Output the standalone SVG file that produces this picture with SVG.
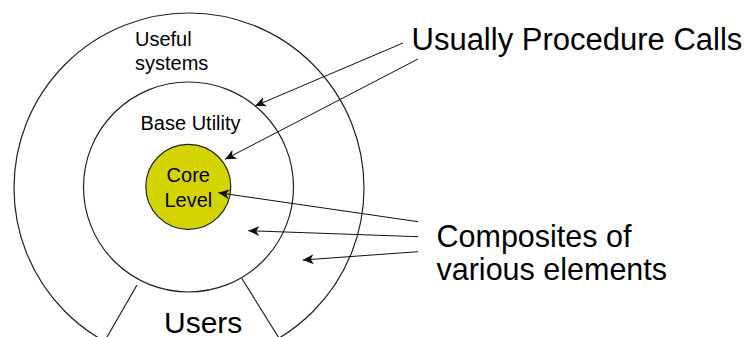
<svg xmlns="http://www.w3.org/2000/svg" width="746" height="337" viewBox="0 0 746 337">
<style>
.ring{fill:none;stroke:#222;stroke-width:1.2}
.core{fill:#d4d400;stroke:#222;stroke-width:1.2}
.sep{stroke:#222;stroke-width:1.2;fill:none}
.conn{stroke:#111;stroke-width:1;fill:none;marker-end:url(#ah)}
text{font-family:"Liberation Sans",Arial,sans-serif;fill:#000}
.s{font-size:20px}
.b{font-size:30.5px}
</style>
<defs>
<marker id="ah" markerUnits="userSpaceOnUse" markerWidth="12" markerHeight="10" refX="11" refY="5" orient="auto" viewBox="0 0 12 10">
<path d="M0,0 L11,5 L0,10 L3,5 Z" fill="#111"/>
</marker>
</defs>
<rect width="746" height="337" fill="#fff"/>
<g id="useful-systems">
<circle class="ring" cx="189" cy="188" r="175"/>
<text class="s" x="135" y="46">Useful</text>
<text class="s" x="135" y="70">systems</text>
</g>
<g id="base-utility">
<circle class="ring" cx="188.5" cy="187" r="105"/>
<text class="s" x="140.5" y="130">Base Utility</text>
</g>
<g id="core-level">
<circle class="core" cx="188.3" cy="186.8" r="42.5"/>
<text class="s" x="188.3" y="181.7" text-anchor="middle">Core</text>
<text class="s" x="188.3" y="206.7" text-anchor="middle">Level</text>
</g>
<g id="users">
<line class="sep" x1="137" y1="285" x2="102.4" y2="345"/>
<line class="sep" x1="241.7" y1="278.3" x2="280.2" y2="340"/>
<text x="164" y="332.5" font-size="30px">Users</text>
</g>
<g id="usually-procedure-calls">
<text x="411.5" y="50" font-size="31px">Usually Procedure Calls</text>
</g>
<g id="composites">
<text class="b" x="436.5" y="246.7">Composites of</text>
<text class="b" x="436.5" y="280">various elements</text>
</g>
<g id="connectors">
<line class="conn" x1="403" y1="43" x2="255" y2="106"/>
<line class="conn" x1="418" y1="59" x2="225" y2="159.3"/>
<line class="conn" x1="418" y1="221.7" x2="218.3" y2="192.7"/>
<line class="conn" x1="418" y1="236.7" x2="248.3" y2="230.7"/>
<line class="conn" x1="418" y1="251.7" x2="302.7" y2="260"/>
</g>
</svg>
